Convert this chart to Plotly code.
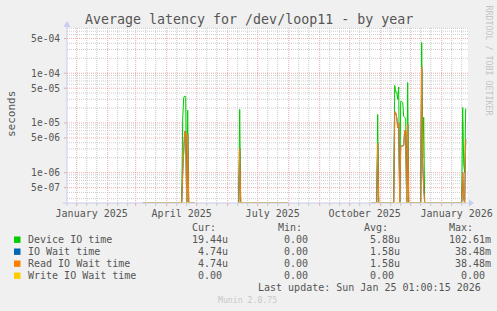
import numpy as np
import pandas as pd
import plotly.graph_objects as go

# ---------------- data ----------------
# periods where the RRD holds known values (zero outside spikes)
known_starts = ["2025-03-08", "2025-06-12", "2025-10-23"]
known_ends = ["2025-04-29", "2025-07-31", "2026-01-25"]

spike_dates = ["2025-04-17", "2025-04-18", "2025-04-19", "2025-04-20", "2025-04-22",
               "2025-06-13", "2025-10-29",
               "2025-11-15", "2025-11-16", "2025-11-17", "2025-11-18", "2025-11-19",
               "2025-11-21", "2025-11-22", "2025-11-23", "2025-11-24", "2025-11-25",
               "2025-11-26", "2025-11-28",
               "2025-12-12", "2025-12-13", "2025-12-14",
               "2026-01-22", "2026-01-23", "2026-01-24", "2026-01-25"]
device_io = [1.2e-5, 3.2e-5, 3.5e-5, 3.3e-5, 1.8e-5,
             1.87e-5, 1.48e-5,
             5.7e-5, 4.2e-5, 4.2e-5, 3.0e-5, 5.3e-5,
             2.7e-5, 2.7e-5, 2.6e-5, 1.35e-5, 1.3e-5,
             1.2e-5, 6.5e-5,
             4.16e-4, 2.0e-6, 1.3e-5,
             2.03e-5, 1.5e-6, 1.0e-6, 1.944e-5]
read_io = [1.0e-6, 4.0e-6, 6.8e-6, 6.8e-6, 6.0e-6,
           3.05e-6, 3.9e-6,
           1.7e-5, 1.6e-5, 1.3e-5, 8.0e-6, 1.0e-5,
           3.4e-6, 3.4e-6, 3.4e-6, 3.5e-6, 7.0e-6,
           7.0e-6, 9.3e-6,
           1.34e-4, 1.5e-6, 5.0e-7,
           1.0e-6, 3.0e-7, 0.0, 4.74e-6]
io_wait = list(read_io)
write_io = [0.0] * len(spike_dates)

series_names = ["Device IO time", "IO Wait time", "Read IO Wait time", "Write IO Wait time"]
series_colors = ["#00CC00", "#0066B3", "#FF8000", "#FFCC00"]
cur_vals = ["19.44u", "4.74u", "4.74u", "0.00"]
min_vals = ["0.00", "0.00", "0.00", "0.00"]
avg_vals = ["5.88u", "1.58u", "1.58u", "0.00"]
max_vals = ["102.61m", "38.48m", "38.48m", "0.00"]

y_tick_vals = [5e-7, 1e-6, 5e-6, 1e-5, 5e-5, 1e-4, 5e-4]
y_tick_text = ["5e-07", "1e-06", "5e-06", "1e-05", "5e-05", "1e-04", "5e-04"]
x_tick_vals = ["2025-01-16", "2025-04-16", "2025-07-16", "2025-10-16", "2026-01-16"]
x_tick_text = ["January 2025", "April 2025", "July 2025", "October 2025", "January 2026"]

title = "Average latency for /dev/loop11 - by year"
last_update = "Last update: Sun Jan 25 01:00:15 2026"

# ---------------- layout constants ----------------
W, H = 497, 311
L, R, T, B = 67, 29, 28, 108
PW, PH = W - L - R, H - T - B
y_lo, y_hi = -6.61, -3.09
floor = 10 ** y_lo
x0 = pd.Timestamp("2025-01-01") - pd.Timedelta(days=9.7)
x1 = pd.Timestamp("2025-01-01") + pd.Timedelta(days=391.3)

def px_x(x):
    return (x - L) / PW

def px_y(y):
    return (T + PH - y) / PH

def yfrac(v):
    return (np.log10(v) - y_lo) / (y_hi - y_lo)

days = pd.date_range("2024-12-21", "2026-01-25", freq="D")

def build(vals):
    s = pd.Series(np.nan, index=days)
    for a, b in zip(known_starts, known_ends):
        s[a:b] = 0.0
    for d, v in zip(spike_dates, vals):
        s[pd.Timestamp(d)] = v
    arr = s.values
    return np.where(np.isnan(arr), np.nan, np.maximum(arr, floor))

fig = go.Figure()
for name, vals, col in zip(series_names, [device_io, io_wait, read_io, write_io], series_colors):
    y = build(vals)
    fig.add_trace(go.Scatter(x=days, y=[None if np.isnan(v) else v for v in y],
                             mode="lines", line=dict(color=col, width=1),
                             name=name, connectgaps=False, showlegend=False,
                             hoverinfo="skip"))

shapes = []
RED = "rgba(230,140,140,0.7)"
GRAY = "rgba(195,195,195,0.85)"
DOT = "1px,1px"
# vertical grid
months = pd.date_range("2025-01-01", "2026-01-01", freq="MS")
minor_days = []
for m in pd.date_range("2024-12-01", "2026-01-01", freq="MS"):
    for dd in (10, 20):
        t = m + pd.Timedelta(days=dd)
        if x0 < t < x1:
            minor_days.append(t)
for t in minor_days:
    shapes.append(dict(type="line", xref="x", yref="paper", x0=t, x1=t, y0=0, y1=1,
                       line=dict(color=GRAY, width=1, dash=DOT), layer="below"))
    shapes.append(dict(type="line", xref="x", yref="paper", x0=t, x1=t, y0=0, y1=-3 / PH,
                       line=dict(color=GRAY, width=1), layer="above"))
for t in months:
    shapes.append(dict(type="line", xref="x", yref="paper", x0=t, x1=t, y0=0, y1=1,
                       line=dict(color=RED, width=1, dash=DOT), layer="below"))
    shapes.append(dict(type="line", xref="x", yref="paper", x0=t, x1=t, y0=0, y1=-3 / PH,
                       line=dict(color=RED, width=1), layer="above"))
# horizontal grid
for e in range(-7, -2):
    for k in range(1, 10):
        v = k * 10.0 ** e
        f = yfrac(v)
        if not (0 < f < 1):
            continue
        major = k in (1, 5)
        shapes.append(dict(type="line", xref="paper", yref="paper", x0=0, x1=1, y0=f, y1=f,
                           line=dict(color=RED if major else GRAY, width=1, dash=DOT), layer="below"))
        if major:
            shapes.append(dict(type="line", xref="paper", yref="paper", x0=-3 / PW, x1=0, y0=f, y1=f,
                               line=dict(color=RED, width=1), layer="above"))
# axes with arrows
AX = "#c8ccf0"
shapes.append(dict(type="line", xref="paper", yref="paper", x0=px_x(63), x1=px_x(470),
                   y0=0, y1=0, line=dict(color=AX, width=1), layer="above"))
shapes.append(dict(type="line", xref="paper", yref="paper", x0=0, x1=0,
                   y0=px_y(206), y1=px_y(24), line=dict(color=AX, width=1), layer="above"))
shapes.append(dict(type="path", xref="paper", yref="paper",
                   path=f"M {px_x(469)} {px_y(199.5)} L {px_x(474)} {px_y(203)} L {px_x(469)} {px_y(206.5)} Z",
                   fillcolor=AX, line=dict(width=0), layer="above"))
shapes.append(dict(type="path", xref="paper", yref="paper",
                   path=f"M {px_x(63.5)} {px_y(27)} L {px_x(67)} {px_y(21)} L {px_x(70.5)} {px_y(27)} Z",
                   fillcolor=AX, line=dict(width=0), layer="above"))

FONT = "DejaVu Sans Mono"
TXT = "#555555"
ann = []
ann.append(dict(text=title, xref="paper", yref="paper", x=px_x(248.5), y=px_y(19),
                xanchor="center", yanchor="middle", showarrow=False,
                font=dict(family=FONT, size=13.3, color=TXT)))
ann.append(dict(text="seconds", xref="paper", yref="paper", x=px_x(11), y=px_y(114),
                xanchor="center", yanchor="middle", showarrow=False, textangle=-90,
                font=dict(family=FONT, size=11, color=TXT)))
ann.append(dict(text="RRDTOOL / TOBI OETIKER", xref="paper", yref="paper", x=px_x(488.5), y=px_y(60),
                xanchor="center", yanchor="middle", showarrow=False, textangle=90,
                font=dict(family=FONT, size=8.3, color="#c4c4c4")))

# legend
CW = 6.02
headers = [("Cur:", 190), ("Min:", 276), ("Avg:", 361.7), ("Max:", 446.7)]
for h, hx in headers:
    ann.append(dict(text=h, xref="paper", yref="paper", x=px_x(hx), y=px_y(227.7),
                    xanchor="left", yanchor="middle", showarrow=False,
                    font=dict(family=FONT, size=10, color=TXT)))
col_starts = [184, 269.7, 355.7, 446.7]
row_y = [239.7, 251.7, 263.7, 275.7]
for i, name in enumerate(series_names):
    yy = row_y[i]
    shapes.append(dict(type="rect", xref="paper", yref="paper", x0=px_x(14), x1=px_x(20.5),
                       y0=px_y(yy + 3.2), y1=px_y(yy - 3.2), fillcolor=series_colors[i],
                       line=dict(width=0), layer="above"))
    ann.append(dict(text=name, xref="paper", yref="paper", x=px_x(26), y=px_y(yy),
                    xanchor="left", yanchor="middle", showarrow=False,
                    font=dict(family=FONT, size=10, color=TXT)))
    for cs, vals in zip(col_starts, [cur_vals, min_vals, avg_vals, max_vals]):
        s = vals[i]
        field = s if s[-1].isalpha() else s + " "
        field = field.rjust(7)
        lead = len(field) - len(field.lstrip(" "))
        ann.append(dict(text=s, xref="paper", yref="paper", x=px_x(cs + lead * CW), y=px_y(yy),
                        xanchor="left", yanchor="middle", showarrow=False,
                        font=dict(family=FONT, size=10, color=TXT)))
ann.append(dict(text=last_update, xref="paper", yref="paper", x=px_x(482.7), y=px_y(287.7),
                xanchor="right", yanchor="middle", showarrow=False,
                font=dict(family=FONT, size=10, color=TXT)))
ann.append(dict(text="Munin 2.0.75", xref="paper", yref="paper", x=px_x(247.7), y=px_y(300),
                xanchor="center", yanchor="middle", showarrow=False,
                font=dict(family=FONT, size=8.2, color="#c8c8c8")))

fig.update_layout(
    width=W, height=H, autosize=False,
    margin=dict(l=L, r=R, t=T, b=B, pad=0, autoexpand=False),
    paper_bgcolor="#F0F0F0", plot_bgcolor="#FFFFFF",
    showlegend=False,
    shapes=shapes, annotations=ann,
    xaxis=dict(type="date", range=[x0, x1], showgrid=False, zeroline=False, showline=False,
               tickmode="array", tickvals=x_tick_vals, ticktext=x_tick_text, ticks="",
               ticklabelstandoff=3, automargin=False,
               tickfont=dict(family=FONT, size=10, color=TXT), fixedrange=True),
    yaxis=dict(type="log", range=[y_lo, y_hi], showgrid=False, zeroline=False, showline=False,
               tickmode="array", tickvals=y_tick_vals, ticktext=y_tick_text, ticks="",
               ticklabelstandoff=6, automargin=False,
               tickfont=dict(family=FONT, size=9.6, color=TXT), fixedrange=True),
)
fig.write_html("out.html")
